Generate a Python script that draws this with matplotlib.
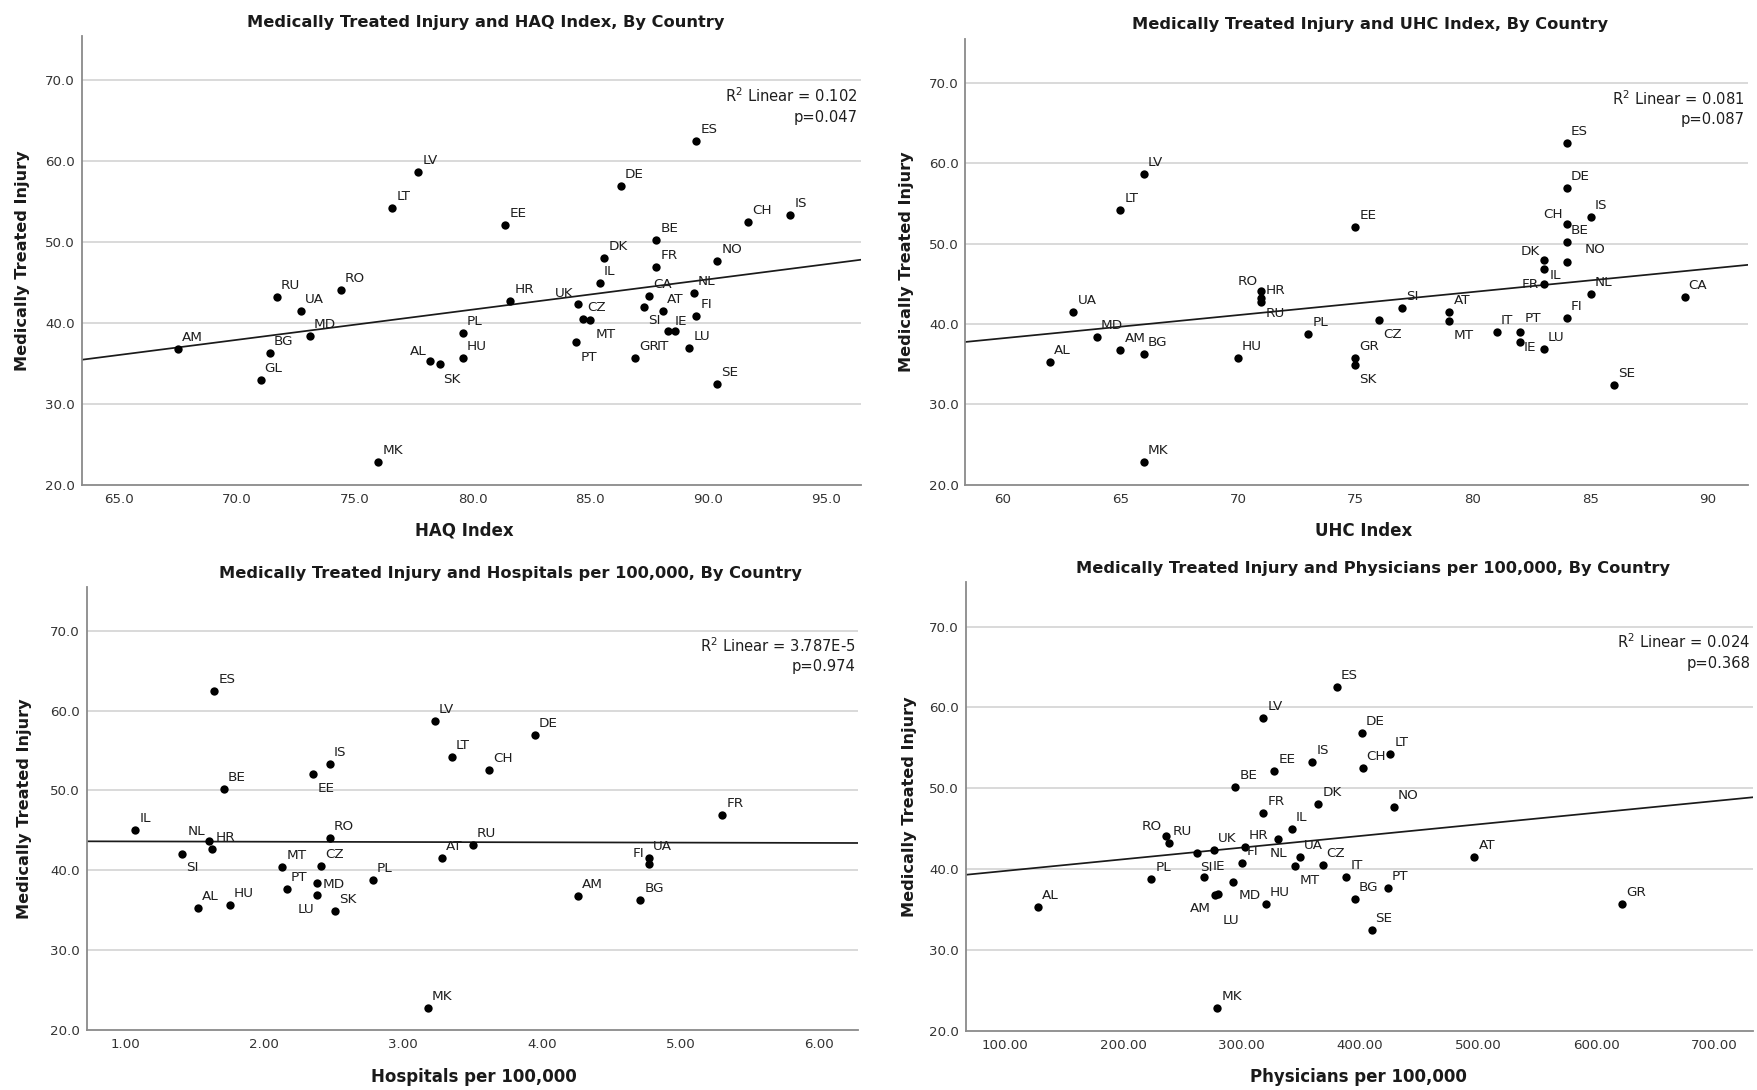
import numpy as np
import matplotlib
matplotlib.use("Agg")
import matplotlib.pyplot as plt
from matplotlib.ticker import FormatStrFormatter
from matplotlib.transforms import blended_transform_factory

W, H, DPI = 1757, 1090, 100
PT = 72 / DPI  # points per pixel

# ── Data ───────────────────────────────────────────────────────────────
y_label = "Medically Treated Injury"

haq_codes = ["AM", "GL", "BG", "RU", "UA", "MD", "RO", "MK", "LT", "LV", "AL", "SK", "PL",
             "HU", "EE", "HR", "PT", "UK", "CZ", "MT", "IL", "DK", "DE", "GR", "SI", "CA",
             "BE", "FR", "AT", "IT", "IE", "LU", "NL", "ES", "FI", "NO", "SE", "CH", "IS"]
haq_x = [67.5, 71.0, 71.4, 71.7, 72.7, 73.1, 74.4, 76.0, 76.6, 77.7, 78.2, 78.6, 79.6,
         79.6, 81.4, 81.6, 84.4, 84.5, 84.7, 85.0, 85.4, 85.6, 86.3, 86.9, 87.3, 87.5,
         87.8, 87.8, 88.1, 88.3, 88.6, 89.2, 89.4, 89.5, 89.5, 90.4, 90.4, 91.7, 93.5]
haq_y = [36.8, 32.9, 36.3, 43.2, 41.5, 38.4, 44.1, 22.8, 54.2, 58.7, 35.3, 34.9, 38.8,
         35.7, 52.1, 42.7, 37.7, 42.3, 40.5, 40.4, 45.0, 48.0, 56.9, 35.7, 42.0, 43.3,
         50.2, 46.9, 41.5, 39.0, 39.0, 36.9, 43.7, 62.5, 40.8, 47.7, 32.4, 52.5, 53.3]

uhc_codes = ["AL", "UA", "MD", "LT", "AM", "LV", "BG", "MK", "HU", "RO", "RU", "HR", "PL",
             "EE", "GR", "SK", "CZ", "SI", "AT", "MT", "IT", "PT", "IE", "DK", "FR", "IL",
             "LU", "ES", "DE", "CH", "BE", "NO", "FI", "IS", "NL", "SE", "CA"]
uhc_x = [62, 63, 64, 65, 65, 66, 66, 66, 70, 71, 71, 71, 73,
         75, 75, 75, 76, 77, 79, 79, 81, 82, 82, 83, 83, 83,
         83, 84, 84, 84, 84, 84, 84, 85, 85, 86, 89]
uhc_y = [35.3, 41.5, 38.4, 54.2, 36.8, 58.7, 36.3, 22.8, 35.7, 44.1, 43.2, 42.7, 38.8,
         52.1, 35.7, 34.9, 40.5, 42.0, 41.5, 40.4, 39.0, 37.7, 39.0, 48.0, 46.9, 45.0,
         36.9, 62.5, 56.9, 52.5, 50.2, 47.7, 40.8, 53.3, 43.7, 32.4, 43.3]

hosp_codes = ["IL", "SI", "AL", "NL", "HR", "ES", "BE", "HU", "MT", "PT", "EE", "MD", "LU",
              "CZ", "IS", "RO", "SK", "PL", "MK", "LV", "AT", "LT", "RU", "CH", "DE", "AM",
              "BG", "FI", "UA", "FR"]
hosp_x = [1.07, 1.41, 1.52, 1.60, 1.62, 1.64, 1.71, 1.75, 2.13, 2.16, 2.35, 2.38, 2.38,
          2.41, 2.47, 2.47, 2.51, 2.78, 3.18, 3.23, 3.28, 3.35, 3.50, 3.62, 3.95, 4.26,
          4.71, 4.77, 4.77, 5.30]
hosp_y = [45.0, 42.0, 35.3, 43.7, 42.7, 62.5, 50.2, 35.7, 40.4, 37.7, 52.1, 38.4, 36.9,
          40.5, 53.3, 44.1, 34.9, 38.8, 22.8, 58.7, 41.5, 54.2, 43.2, 52.5, 56.9, 36.8,
          36.3, 40.8, 41.5, 46.9]

phys_codes = ["AL", "PL", "RO", "RU", "SI", "IE", "UK", "AM", "MK", "LU", "MD", "BE", "FI",
              "HR", "LV", "FR", "HU", "EE", "NL", "IL", "MT", "UA", "IS", "DK", "CZ", "ES",
              "IT", "BG", "DE", "CH", "SE", "PT", "LT", "NO", "AT", "GR"]
phys_x = [127.9, 223.7, 235.8, 238.6, 262.5, 268.5, 276.6, 277.7, 279.4, 280.3, 292.4, 294.6,
          300.8, 302.5, 318.3, 318.3, 320.3, 327.6, 330.7, 342.5, 345.6, 349.3, 360.0, 365.1,
          368.5, 380.6, 388.5, 396.0, 402.0, 402.5, 410.0, 424.0, 426.0, 428.6, 497.1, 621.7]
phys_y = [35.3, 38.8, 44.1, 43.2, 42.0, 39.0, 42.3, 36.8, 22.8, 36.9, 38.4, 50.2,
          40.8, 42.7, 58.7, 46.9, 35.7, 52.1, 43.7, 45.0, 40.4, 41.5, 53.3, 48.0,
          40.5, 62.5, 39.0, 36.3, 56.9, 52.5, 32.4, 37.7, 54.2, 47.7, 41.5, 35.7]

r2_text = ["0.102", "0.081", "3.787E-5", "0.024"]
p_text = ["0.047", "0.087", "0.974", "0.368"]

# ── Layout (pixels) ────────────────────────────────────────────────────
# label offsets: code -> (dx, dy, ha), pixels from the dot to the label baseline
DEFAULT_OFF = (4, -8, "left")
panels = [
    dict(codes=haq_codes, x=haq_x, y=haq_y,
         box=(81.7, 861, 36, 484.6), xlim=(63.4, 96.5), xticks=np.arange(65, 96, 5), fmt="%.1f",
         title="Medically Treated Injury and HAQ Index, By Country", title_xy=(486, 26.5),
         xlabel="HAQ Index", xlabel_xy=(464, 531), ylabel_x=22.4,
         offsets={"AL": (-4, -6, "right"), "SK": (4, 19, "left"), "PT": (5, 19, "left"),
                  "MT": (5, 18, "left"), "UK": (-5, -7, "right"), "SI": (4, 17, "left"),
                  "IT": (1, 19, "right"), "IE": (0, -6, "left")}),
    dict(codes=uhc_codes, x=uhc_x, y=uhc_y,
         box=(965.3, 1748, 38.8, 484.6), xlim=(58.4, 91.7), xticks=np.arange(60, 91, 5), fmt="%d",
         title="Medically Treated Injury and UHC Index, By Country", title_xy=(1370, 29),
         xlabel="UHC Index", xlabel_xy=(1364, 531), ylabel_x=906.7,
         offsets={"RO": (-4, -6, "right"), "RU": (4, 19, "left"), "CZ": (4, 18, "left"),
                  "SK": (4, 18, "left"), "MT": (4, 18, "left"), "IE": (4, 19, "left"),
                  "PT": (5, -20, "left"), "DK": (-4, -5, "right"), "FR": (-5, 19, "right"),
                  "IL": (6, -5, "left"), "CH": (-4, -6, "right"), "NO": (18, -9, "left")}),
    dict(codes=hosp_codes, x=hosp_x, y=hosp_y,
         box=(86.7, 858.3, 586.7, 1030), xlim=(0.72, 6.28), xticks=np.arange(1, 6.5, 1), fmt="%.2f",
         title="Medically Treated Injury and Hospitals per 100,000, By Country", title_xy=(510, 578.3),
         xlabel="Hospitals per 100,000", xlabel_xy=(474, 1077), ylabel_x=24.7,
         offsets={"EE": (5, 18, "left"), "NL": (-4, -6, "right"), "SI": (4, 17, "left"),
                  "MD": (6, 5, "left"), "LU": (-3, 18, "right"), "FI": (-4, -7, "right")}),
    dict(codes=phys_codes, x=phys_x, y=phys_y,
         box=(965.7, 1753.3, 582.2, 1030.7), xlim=(66.6, 733), xticks=np.arange(100, 701, 100), fmt="%.2f",
         title="Medically Treated Injury and Physicians per 100,000, By Country", title_xy=(1373, 573.5),
         xlabel="Physicians per 100,000", xlabel_xy=(1358, 1077), ylabel_x=909,
         offsets={"RO": (-4, -6, "right"), "SI": (3, 18, "left"), "IE": (8, -7, "left"),
                  "NL": (-8, 18, "left"), "MT": (4, 18, "left"), "MD": (6, 17, "left"),
                  "AM": (-4, 17, "right"), "LU": (4, 30, "left")}),
]

GRID = "#d9d9d9"
SPINE = "#8a8a8a"
TICK = "#333333"

fig = plt.figure(figsize=(W / DPI, H / DPI), dpi=DPI)
plt.rcParams["font.family"] = ["DejaVu Sans"]

for i, p in enumerate(panels):
    l, r, t, b = p["box"]
    ax = fig.add_axes([l / W, 1 - b / H, (r - l) / W, (b - t) / H])
    x = np.array(p["x"], dtype=float)
    y = np.array(p["y"], dtype=float)

    ax.set_xlim(*p["xlim"])
    ax.set_ylim(20, 75.5)
    ax.set_yticks(np.arange(20, 71, 10))
    ax.set_xticks(p["xticks"])
    ax.yaxis.set_major_formatter(FormatStrFormatter("%.1f"))
    ax.xaxis.set_major_formatter(FormatStrFormatter(p["fmt"]))
    ax.tick_params(axis="both", length=0, labelsize=9.6, labelcolor=TICK)
    ax.tick_params(axis="y", pad=4.8)
    ax.tick_params(axis="x", pad=5.8)
    for yy in range(30, 71, 10):
        ax.axhline(yy, color=GRID, lw=1.4, zorder=0)
    for s in ("top", "right"):
        ax.spines[s].set_visible(False)
    for s in ("left", "bottom"):
        ax.spines[s].set_color(SPINE)
        ax.spines[s].set_linewidth(1.3)

    # linear fit across the full x range
    k, c = np.polyfit(x, y, 1)
    xs = np.array(p["xlim"])
    ax.plot(xs, k * xs + c, color="#1a1a1a", lw=1.25, zorder=2)

    ax.scatter(x, y, s=36, color="black", zorder=3, linewidths=0)
    for code, xv, yv in zip(p["codes"], x, y):
        dx, dy, ha = p["offsets"].get(code, DEFAULT_OFF)
        ax.annotate(code, (xv, yv), xytext=(dx * PT, -dy * PT), textcoords="offset points",
                    ha=ha, va="baseline", fontsize=9.7, color="#1e1e1e", zorder=4)

    tr = blended_transform_factory(ax.transAxes, ax.transData)
    ax.text(1 - 3 / (r - l), 67.3, "R$^2$ Linear = " + r2_text[i], transform=tr,
            ha="right", va="baseline", fontsize=10.6, color="#1e1e1e")
    ax.text(1 - 3 / (r - l), 64.9, "p=" + p_text[i], transform=tr,
            ha="right", va="baseline", fontsize=10.6, color="#1e1e1e")

    tx, ty = p["title_xy"]
    fig.text(tx / W, 1 - ty / H, p["title"], ha="center", va="baseline",
             fontsize=11.7, fontweight="bold", color="#1a1a1a")
    lx, ly = p["xlabel_xy"]
    fig.text(lx / W, 1 - ly / H, p["xlabel"], ha="center", va="center",
             fontsize=12, fontweight="bold", color="#1a1a1a")
    fig.text(p["ylabel_x"] / W, 1 - (t + b) / 2 / H, y_label, rotation=90, ha="center",
             va="center", fontsize=11.6, fontweight="bold", color="#1a1a1a")

fig.savefig("out.png", dpi=DPI, facecolor="white")
